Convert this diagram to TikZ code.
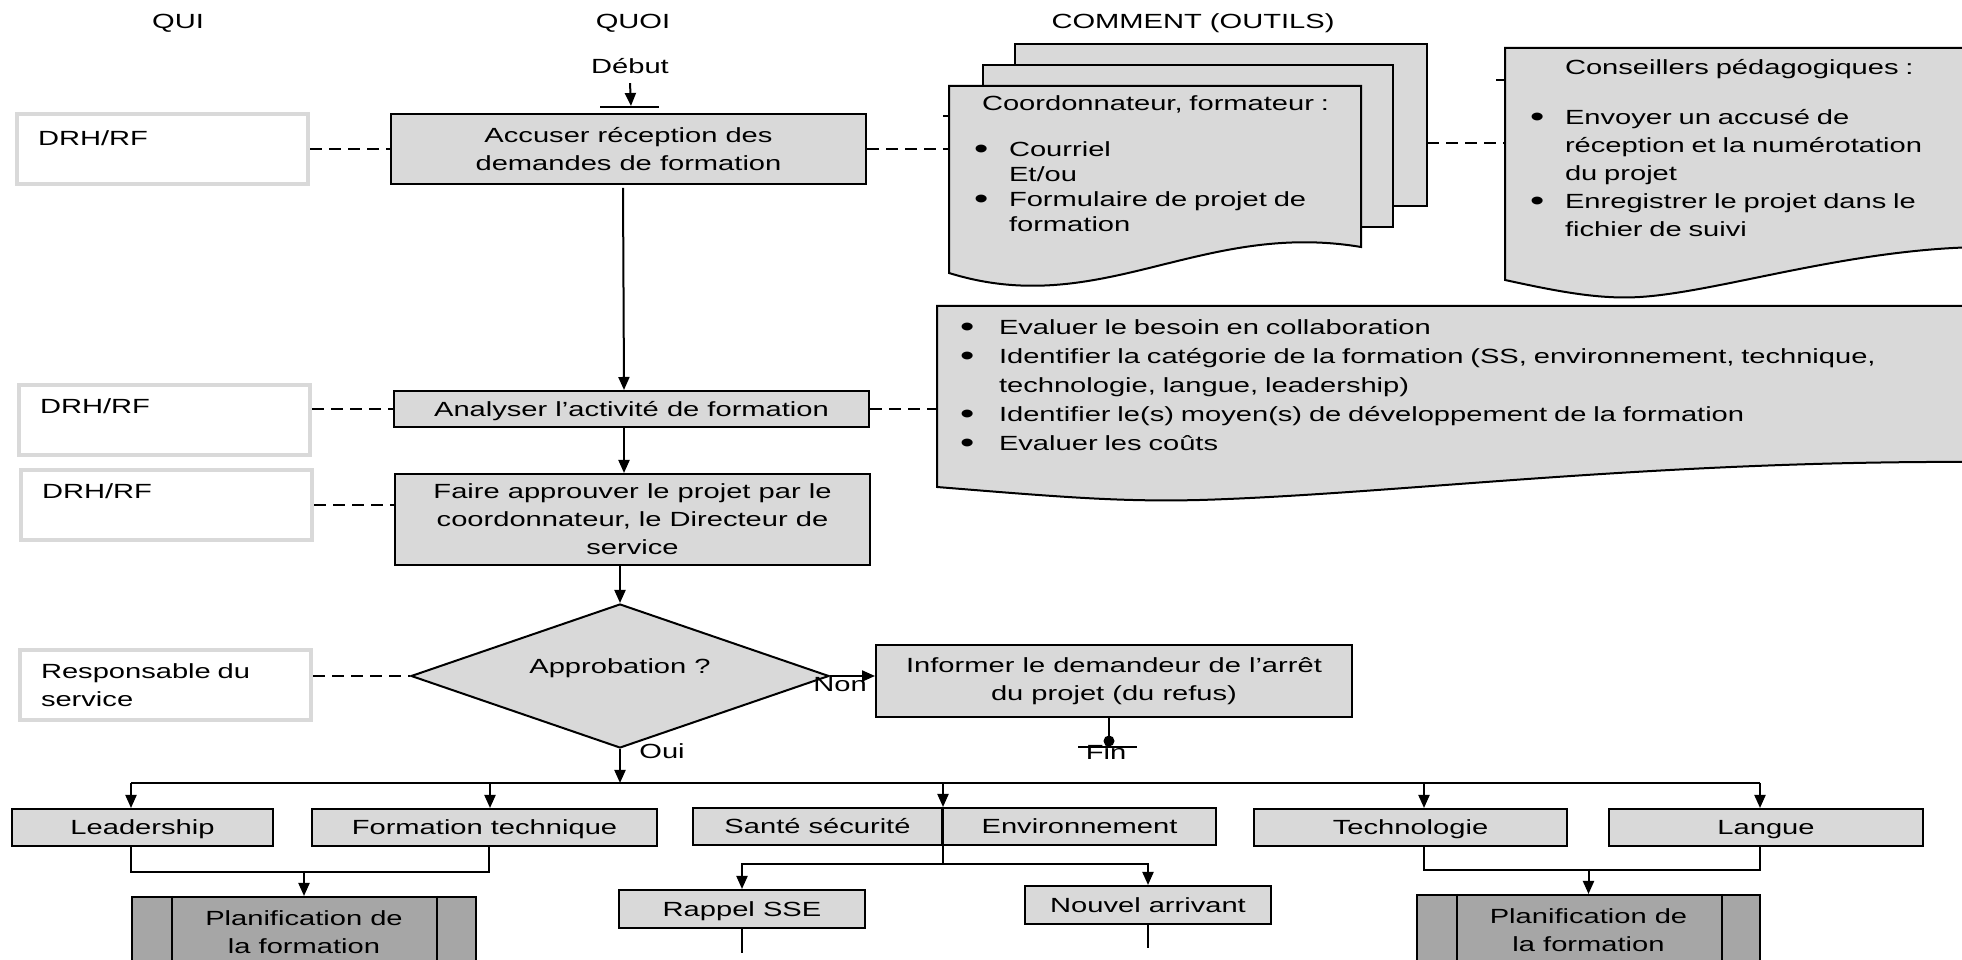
\documentclass[tikz,border=0pt]{standalone}
\usepackage{fontspec}
\setmainfont{Liberation Sans}[FakeStretch=1.42]
\usepackage{tikz}
\usetikzlibrary{arrows.meta}
\usetikzlibrary{shapes.geometric}

\definecolor{boxgray}{HTML}{D9D9D9}
\definecolor{planifgray}{HTML}{A6A6A6}

\newcommand{\puce}[1][35pt]{\makebox[#1][l]{\raisebox{-1.5pt}{\scalebox{1.4}{\textbullet}}}}
\newcommand{\retrait}[1][35pt]{\hspace*{#1}}

\begin{document}
\begin{tikzpicture}[
		x=1pt,
		y=1pt,
		>={Triangle[length=13pt,width=11pt]},
		line width=2pt,
		font=\fontsize{20.5}{28}\selectfont,
		label node/.style={inner sep=0pt, anchor=base},
		step node/.style={
			draw,
			fill=boxgray,
			align=center,
			inner sep=0pt,
			minimum width=475pt
		},
		small node/.style={
			step node,
			minimum height=37pt,
			text height=15pt,
			text depth=0pt
		},
		qui node/.style={
			draw=boxgray,
			line width=4pt,
			anchor=north west,
			align=left,
			text width=249pt,
			inner xsep=21pt,
			inner ysep=0pt,
			text height=29pt,
			text depth=41pt
		},
		decision node/.style={
			diamond,
			aspect=2.9,
			draw,
			fill=boxgray,
			inner sep=0pt,
			minimum width=418pt,
			minimum height=144pt
		},
		planif node/.style={
			draw,
			fill=planifgray,
			align=center,
			inner sep=0pt,
			minimum width=344pt,
			minimum height=70pt
		},
		page/.style={draw, fill=boxgray},
		doc text/.style={
			anchor=base west,
			align=left,
			inner sep=0pt,
			text width=960pt
		},
		dashed link/.style={dash pattern=on 12pt off 7pt}
		]
		\useasboundingbox (0,0) rectangle (1962,960);

		% headers
		\node[label node] (qui) at (178,931) {QUI};
		\node[label node] (quoi) at (633,931) {QUOI};
		\node[label node] (comment) at (1193,931) {COMMENT (OUTILS)};

		% pile of forms
		\filldraw[page] (1015,916) rectangle (1427,754);
		\filldraw[page] (983,895) rectangle (1393,733);
		\filldraw[page] (949,874) -- (1361,874) -- (1361,713)
			.. controls (1200,740) and (1100,640) .. (949,687) -- cycle;
		\coordinate (outils edge) at (949,812);
		\coordinate (pile edge) at (1427,817);
		\draw[line width=1.5pt] (943,844) -- (950,844);

		% advisers sheet
		\filldraw[page] (1985,713) -- (1985,912) -- (1505,912) -- (1505,680)
			.. controls (1560,668) and (1600,660.5) .. (1640,663)
			.. controls (1720,668) and (1850,712) .. (1985,713) -- cycle;
		\coordinate (conseillers edge) at (1505,817);
		\draw[line width=1.5pt] (1496,880) -- (1505,880);

		% analysis sheet
		\filldraw[page] (1985,498) -- (1985,654) -- (937,654) -- (937,473)
			.. controls (1060,463) and (1120,458) .. (1200,460)
			.. controls (1400,466) and (1650,500) .. (1985,498) -- cycle;
		\coordinate (evaluer edge) at (937,548);

		\node[doc text, font=\fontsize{20.5}{25}\selectfont] (outils) at (973,849) {%
			\retrait[8pt]Coordonnateur, formateur :\\[21pt]
			\puce Courriel\\
			\retrait Et/ou\\
			\puce Formulaire de projet de\\
			\retrait formation};
		\node[doc text] (conseillers) at (1529,885) {%
			\retrait Conseillers pédagogiques :\\[22pt]
			\puce Envoyer un accusé de\\
			\retrait réception et la numérotation\\
			\retrait du projet\\
			\puce Enregistrer le projet dans le\\
			\retrait fichier de suivi};
		\node[doc text, font=\fontsize{20.5}{29}\selectfont] (evaluer) at (959,625) {%
			\puce[39pt]Evaluer le besoin en collaboration\\
			\puce[39pt]Identifier la catégorie de la formation (SS, environnement, technique,\\
			\retrait[39pt]technologie, langue, leadership)\\
			\puce[39pt]Identifier le(s) moyen(s) de développement de la formation\\
			\puce[39pt]Evaluer les coûts};

		% who
		\node[qui node, text height=32pt, text depth=38pt] (Q1) at (15,848) {DRH/RF};
		\node[qui node] (Q2) at (17,577) {DRH/RF};
		\node[qui node] (Q3) at (19,492) {DRH/RF};
		\node[qui node] (Q4) at (18,312) {Responsable du\\service};

		% what
		\node[label node] (debut) at (630,886) {Début};
		\coordinate (start) at (631,854);
		\node[step node, minimum height=70pt] (A) at (628.5,811) {Accuser réception des\\demandes de formation};
		\node[small node, minimum width=475pt, minimum height=36pt] (B) at (631.5,551) {Analyser l’activité de formation};
		\node[step node, minimum height=91pt] (C) at (632.5,440.5) {Faire approuver le projet par le\\coordonnateur, le Directeur de\\service};
		\node[decision node] (D) at (620,284) {\raisebox{20pt}{Approbation ?}};
		\node[step node, minimum width=476pt, minimum height=72pt] (I) at (1114,279) {Informer le demandeur de l’arrêt\\du projet (du refus)};
		\node[label node] (non) at (840,268) {Non};
		\node[label node] (oui) at (662,201) {Oui};
		\node[label node] (fin) at (1106,200) {Fin};
		\coordinate (fin point) at (1109,219);
		\coordinate (bus) at (0,177);

		\node[small node, minimum width=261pt] (L) at (142.5,132.5) {Leadership};
		\node[small node, minimum width=345pt] (FT) at (484.5,132.5) {Formation technique};
		\node[small node, minimum width=249pt] (SS) at (817.5,133.5) {Santé sécurité};
		\node[small node, minimum width=273pt] (EN) at (1079.5,133.5) {Environnement};
		\node[small node, minimum width=313pt] (TE) at (1410.5,132.5) {Technologie};
		\node[small node, minimum width=314pt] (LA) at (1766,132.5) {Langue};
		\node[small node, minimum width=246pt, minimum height=38pt] (R) at (742,51) {Rappel SSE};
		\node[small node, minimum width=246pt, minimum height=38pt] (N) at (1148,55) {Nouvel arrivant};
		\node[planif node] (P1) at (304,28) {Planification de\\la formation};
		\node[planif node, minimum width=343pt] (P2) at (1588.5,30) {Planification de\\la formation};
		\draw ([xshift=41pt]P1.north west) -- ([xshift=41pt]P1.south west);
		\draw ([xshift=-40pt]P1.north east) -- ([xshift=-40pt]P1.south east);
		\draw ([xshift=41pt]P2.north west) -- ([xshift=41pt]P2.south west);
		\draw ([xshift=-39pt]P2.north east) -- ([xshift=-39pt]P2.south east);

		% flow
		\draw[->] ([yshift=-8pt]debut.south) -- (start);
		\draw ([xshift=-31pt,yshift=-1pt]start) -- ([xshift=28pt,yshift=-1pt]start);
		\draw[->] ([xshift=-5.5pt,yshift=-3pt]A.south) -- ([xshift=-7.5pt]B.north);
		\draw[->] ([xshift=-7.5pt]B.south) -- ([xshift=-8.5pt]C.north);
		\draw[->] (D.north |- C.south) -- (D.north);
		\draw[->] (D.east) -- (D.east -| I.west);
		\draw (I.south -| fin point) -- (fin point);
		\fill (fin point) circle (5.5pt);
		\draw ([xshift=-31pt,yshift=-6pt]fin point) -- ([xshift=28pt,yshift=-6pt]fin point);
		\draw[->] (D.south) -- (D.south |- bus);

		\draw ([xshift=-11.5pt]L.north |- bus) -- ([xshift=-6pt]LA.north |- bus);
		\draw[->] ([xshift=-11.5pt]L.north |- bus) -- ([xshift=-11.5pt]L.north);
		\draw[->] ([xshift=5.5pt]FT.north |- bus) -- ([xshift=5.5pt]FT.north);
		\draw[->] (SS.north east |- bus) -- (SS.north east);
		\draw (SS.north east) -- ([yshift=-18pt]SS.south east);
		\draw[->] ([xshift=13.5pt]TE.north |- bus) -- ([xshift=13.5pt]TE.north);
		\draw[->] ([xshift=-6pt]LA.north |- bus) -- ([xshift=-6pt]LA.north);

		\draw ([xshift=-11.5pt]L.south) -- ++(0,-25) -| ([xshift=4.5pt]FT.south);
		\draw[->] (P1.north) ++(0,25) -- (P1.north);
		\draw ([xshift=13.5pt]TE.south) -- ++(0,-23) -| ([xshift=-6pt]LA.south);
		\draw[->] (P2.north) ++(0,25) -- (P2.north);

		\draw[->] ([yshift=-18pt]SS.south east) -| (R.north);
		\draw[->] ([yshift=-18pt]SS.south east) -| (N.north);
		\draw (R.south) -- ++(0,-24);
		\draw (N.south) -- ++(0,-23);

		% who / how links
		\draw[dashed link] (Q1.east) -- (Q1.east -| A.west);
		\draw[dashed link] (A.east) -- (A.east -| outils edge);
		\draw[dashed link] (pile edge) -- (conseillers edge);
		\draw[dashed link] (B.west -| Q2.east) -- (B.west);
		\draw[dashed link] (B.east) -- (B.east -| evaluer edge);
		\draw[dashed link] (Q3.east) -- (Q3.east -| C.west);
		\draw[dashed link] (D.west -| Q4.east) -- (D.west);
	\end{tikzpicture}
\end{document}
